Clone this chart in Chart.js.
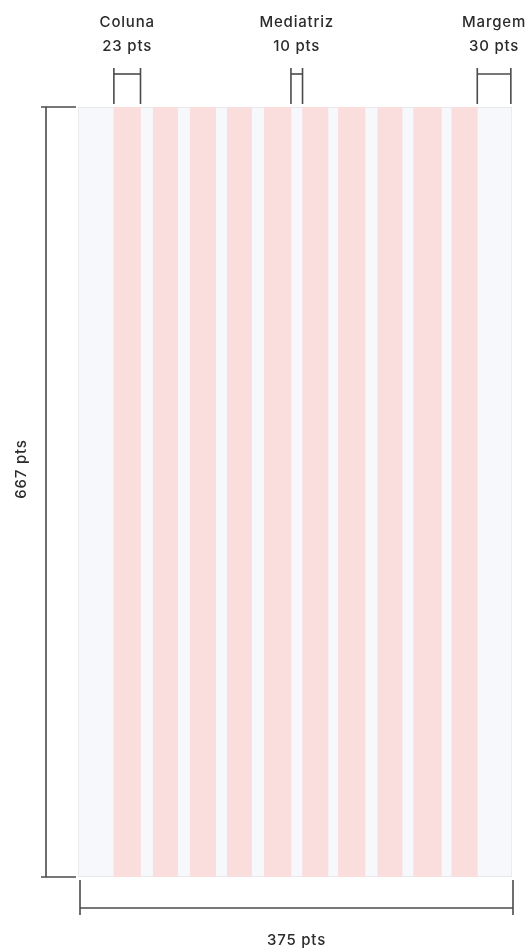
<!DOCTYPE html>
<html>
<head>
<meta charset="utf-8">
<script src="https://cdn.jsdelivr.net/npm/chart.js@4"></script>
<style>
  html, body { margin: 0; padding: 0; background: #fff; }
  #grid { display: block; }
</style>
</head>
<body>
<canvas id="grid" width="532" height="951"></canvas>
<script>
// screen size in pts
const screenWidth = 375;
const screenHeight = 667;

// pink columns, start / end in pts
const columnStarts = [31, 65, 97, 129, 161, 194, 225, 259, 290, 323];
const columnEnds   = [54, 86, 119, 150, 184, 216, 248, 280, 314, 345];

// labels of the top dimension brackets
const bracketTitles = ['Coluna', 'Mediatriz', 'Margem'];
const bracketValues = ['23 pts', '10 pts', '30 pts'];
// bracket spans in pts: first column, gutter between column 5 and 6, right margin
const bracketSpans = [[31, 54], [184, 194], [345, 374]];

const lineColor = '#4a4a4a';
const textColor = '#2b2b2b';
const labelFont = '500 15px Inter, "Open Sans", sans-serif';

const datasets = columnStarts.map((s, i) => ({
  label: 'Coluna ' + (i + 1),
  data: [[s, columnEnds[i]]],
  backgroundColor: 'rgb(250, 222, 222)',
  borderWidth: 0,
  grouped: false
}));

// the screen itself, drawn behind the columns (last dataset is drawn first)
datasets.push({
  label: 'Tela',
  data: [[0, screenWidth]],
  backgroundColor: 'rgb(246, 248, 251)',
  borderColor: '#e4e6e9',
  borderWidth: 1,
  borderSkipped: false,
  grouped: false
});

const dimensions = {
  id: 'dimensions',
  afterDraw(chart) {
    const ctx = chart.ctx;
    const x = chart.scales.x;
    const area = chart.chartArea;
    ctx.save();
    ctx.strokeStyle = lineColor;
    ctx.lineWidth = 1.6;
    ctx.fillStyle = textColor;
    ctx.font = labelFont;
    ctx.letterSpacing = '0.8px';
    ctx.textAlign = 'center';
    ctx.textBaseline = 'middle';

    const line = (x1, y1, x2, y2) => {
      ctx.beginPath();
      ctx.moveTo(x1, y1);
      ctx.lineTo(x2, y2);
      ctx.stroke();
    };

    // top brackets
    bracketSpans.forEach((span, i) => {
      const a = x.getPixelForValue(span[0]);
      const b = x.getPixelForValue(span[1]);
      line(a, 68, a, area.top - 3);
      line(b, 68, b, area.top - 3);
      line(a, 74, b, 74);
      const mid = (a + b) / 2;
      const half = ctx.measureText(bracketTitles[i]).width / 2;
      ctx.fillText(bracketTitles[i], Math.min(mid, 531 - half), 22);
      ctx.fillText(bracketValues[i], mid, 46);
    });

    // height on the left
    const lx = 46;
    line(lx, area.top, lx, area.bottom);
    line(41, area.top, area.left - 2, area.top);
    line(41, area.bottom, area.left - 2, area.bottom);
    ctx.save();
    ctx.translate(21, 469);
    ctx.rotate(-Math.PI / 2);
    ctx.fillText(screenHeight + ' pts', 0, 0);
    ctx.restore();

    // width at the bottom
    const l = x.getPixelForValue(0) + 2;
    const r = x.getPixelForValue(screenWidth) + 1;
    const by = 908;
    line(l, by, r, by);
    line(l, area.bottom + 3, l, by + 7);
    line(r, area.bottom + 3, r, by + 7);
    ctx.fillText(screenWidth + ' pts', (l + r) / 2, 940);

    ctx.restore();
  }
};

new Chart(document.getElementById('grid'), {
  type: 'bar',
  data: {
    labels: ['tela'],
    datasets: datasets
  },
  options: {
    indexAxis: 'y',
    responsive: false,
    animation: false,
    devicePixelRatio: 1,
    barPercentage: 1,
    categoryPercentage: 1,
    layout: {
      padding: { left: 78, right: 20, top: 107, bottom: 74 }
    },
    scales: {
      x: { type: 'linear', min: 0, max: screenWidth, display: false },
      y: { display: false }
    },
    plugins: {
      legend: { display: false },
      tooltip: { enabled: false }
    }
  },
  plugins: [dimensions]
});
</script>
</body>
</html>
